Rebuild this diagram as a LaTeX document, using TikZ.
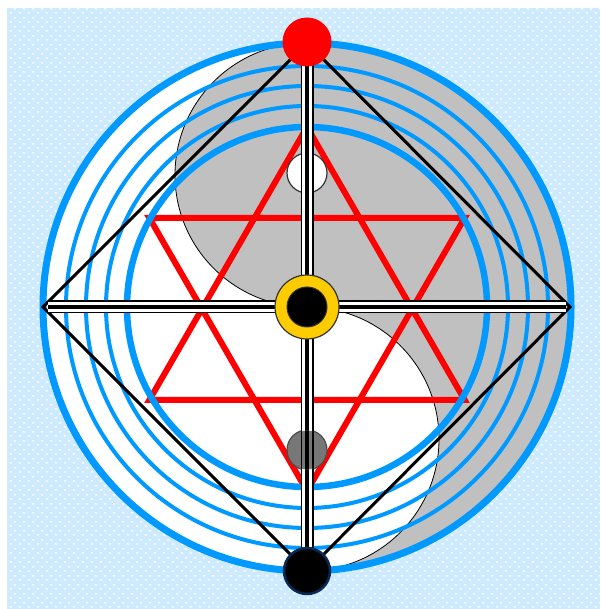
\documentclass[tikz,border=0pt]{standalone}
\usetikzlibrary{patterns.meta}
\definecolor{bgblue}{HTML}{CDEAFF}
\definecolor{skyb}{HTML}{0099FF}
\definecolor{yygray}{HTML}{C0C0C0}
\definecolor{eyegray}{HTML}{777777}
\definecolor{ringyellow}{HTML}{FFCC00}
\definecolor{navyedge}{HTML}{0A2A55}
\tikzdeclarepattern{name=bgdots, type=uncolored,
  bounding box={(0pt,0pt) and (9pt,8.6pt)}, tile size={(9pt,8.6pt)},
  code={\fill (2.2pt,2.1pt) ellipse (1.9pt and 0.9pt);
        \fill (6.7pt,6.4pt) ellipse (1.9pt and 0.9pt);}}
\tikzset{
  bluering/.style={draw=skyb, line width=#1},
  starline/.style={draw=red, line width=6, line join=miter},
  diamondline/.style={draw=black, line width=3, line join=miter},
}
\begin{document}
\begin{tikzpicture}[x=1pt,y=1pt]
\useasboundingbox (0,0) rectangle (600,609);
\fill[white] (0,0) rectangle (600,609);
\fill[bgblue] (7,0) rectangle (600,601);
\fill[pattern=bgdots, pattern color=white] (7,0) rectangle (600,601);

\coordinate (C) at (307,302);
\coordinate (T) at (307,566);
\coordinate (B) at (307,38);
\coordinate (L) at (43,302);
\coordinate (R) at (570,302);

% white disc inside
\fill[white] (C) circle[radius=264];
% yin-yang gray
\filldraw[fill=yygray, draw=black, line width=0.8]
  (T) arc[start angle=90, end angle=-90, radius=264]
      arc[start angle=-90, end angle=90, radius=132]
      arc[start angle=-90, end angle=-270, radius=132] -- cycle;

% star of David
\begin{scope}[shift={(307,300)}]
  \draw[starline] (90:182) -- (210:182) -- (330:182) -- cycle;
  \draw[starline] (270:182) -- (30:182) -- (150:182) -- cycle;
\end{scope}

% blue circles
\draw[bluering=7] (C) circle[radius=264];
\draw[bluering=4] (C) circle[radius=241];
\draw[bluering=4] (C) circle[radius=221];
\draw[bluering=4] (C) circle[radius=201];
\draw[bluering=6.5] (C) circle[radius=180];

% diamond
\draw[diamondline] (T) -- (L) -- (B) -- (R) -- cycle;

% eyes
\filldraw[fill=white, draw=black!80, line width=1.2] (307,436) circle[radius=20];
\filldraw[fill=eyegray, draw=black!70, line width=1.2] (307,159) circle[radius=20];

% cross bars
\coordinate (HL) at (48,302);
\coordinate (HR) at (566,302);
\foreach \a/\b in {T/B, HL/HR}{
  \draw[black, line width=13] (\a) -- (\b);
  \draw[white, line width=10] (\a) -- (\b);
  \draw[black, line width=3.5] (\a) -- (\b);
}
% eye interiors show through the bar
\begin{scope}
  \clip (307,436) circle[radius=19.4];
  \fill[white] (300.5,420) rectangle (313.5,452);
  \draw[black, line width=1.5] (301.25,410) -- (301.25,460) (312.75,410) -- (312.75,460);
  \draw[black, line width=3.5] (T) -- (B);
\end{scope}
\begin{scope}
  \clip (307,159) circle[radius=19.4];
  \fill[eyegray] (300.5,130) rectangle (313.5,190);
  \draw[black, line width=1.5] (301.25,130) -- (301.25,190) (312.75,130) -- (312.75,190);
  \draw[black, line width=3.5] (T) -- (B);
\end{scope}

% central ring
\filldraw[fill=ringyellow, draw=black!80, line width=1.2] (C) circle[radius=32];
\filldraw[fill=black, draw=black!80, line width=1] (C) circle[radius=20];

% end circles
\fill[red] (307,567) circle[radius=24.5];
\filldraw[fill=black, draw=navyedge, line width=2.5] (307,38) circle[radius=23];
\end{tikzpicture}
\end{document}
